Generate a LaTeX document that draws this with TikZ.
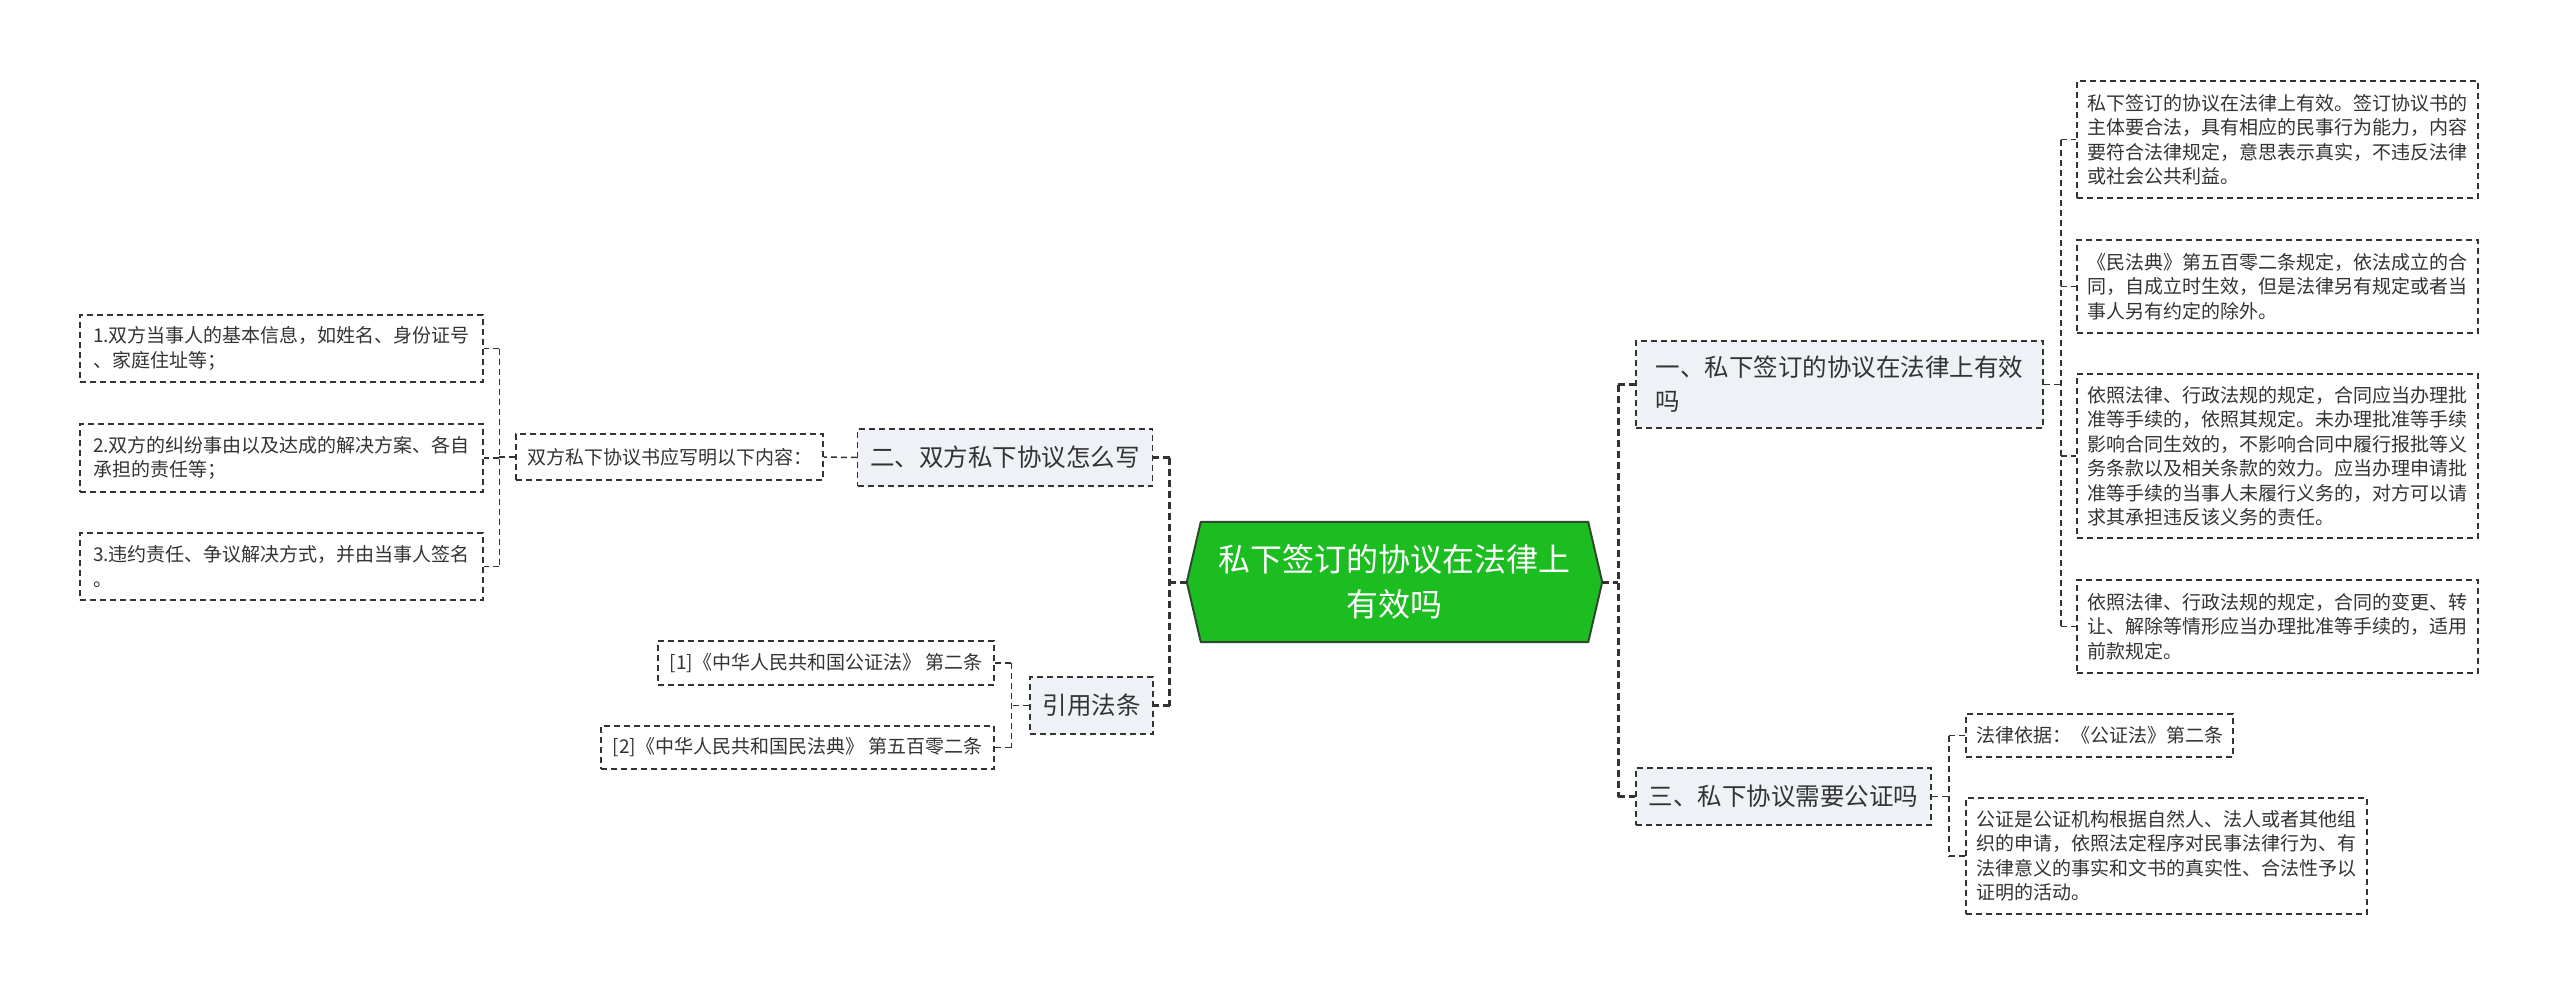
\documentclass[tikz,border=0pt]{standalone}
\usepackage{fontspec}
\newfontfamily\cjk{Noto Sans CJK SC}
\usetikzlibrary{calc}
\pgfdeclarelayer{bg}
\pgfdeclarelayer{back}
\pgfsetlayers{back,bg,main}
\definecolor{lineC}{HTML}{333333}
\definecolor{textC}{HTML}{333333}
\definecolor{greenC}{HTML}{1CBD21}
\definecolor{greenB}{HTML}{2E4A2E}
\definecolor{mainF}{HTML}{EEF1F5}
\begin{document}
\begin{tikzpicture}[x=1pt,y=-1pt,
  box/.style={draw=lineC, line width=1.5pt, dash pattern=on 6pt off 4pt, inner sep=0pt, align=left, text=textC},
  leaf/.style={box, fill=white, font=\cjk\fontsize{19}{24.5}\selectfont},
  mainbox/.style={box, fill=mainF, font=\cjk\fontsize{24.5}{34}\selectfont},
  conn/.style={draw=lineC, line width=1.5pt, dash pattern=on 6pt off 4pt},
  rootconn/.style={draw=lineC, line width=3pt, dash pattern=on 7pt off 4pt},
]
\begin{pgfonlayer}{back}
\fill[white] (0,0) rectangle (2560,997);
\end{pgfonlayer}
\useasboundingbox (0,0) rectangle (2560,997);

% root
\node[font=\cjk\fontsize{32}{45}\selectfont, text=white, align=center, minimum width=415pt, minimum height=120pt, inner sep=0pt] (c) at (1394.5,582) {私下签订的协议在法律上\\有效吗};
\begin{pgfonlayer}{bg}
\draw[fill=greenC, draw=greenB, line width=2pt, line join=round] (c.west) -- ($(c.north west)+(14,0)$) -- ($(c.north east)+(-14,0)$) -- (c.east) -- ($(c.south east)+(-14,0)$) -- ($(c.south west)+(14,0)$) -- cycle;
\end{pgfonlayer}

% main branches
\node[mainbox, minimum width=407pt, minimum height=87pt] (b1) at (1839.5,384.5) {一、私下签订的协议在法律上有效\\吗};
\node[mainbox, minimum width=295pt, minimum height=57pt] (b3) at (1783.5,796.5) {三、私下协议需要公证吗};
\node[mainbox, minimum width=295pt, minimum height=57pt] (b2) at (1005,457.5) {二、双方私下协议怎么写};
\node[mainbox, minimum width=123pt, minimum height=57pt] (b4) at (1091.5,705.5) {引用法条};

% right leaves of b1
\node[leaf, minimum width=401pt, minimum height=117pt] (r1) at (2277.5,139.5) {私下签订的协议在法律上有效。签订协议书的\\主体要合法，具有相应的民事行为能力，内容\\要符合法律规定，意思表示真实，不违反法律\\或社会公共利益。};
\node[leaf, minimum width=401pt, minimum height=93pt] (r2) at (2277.5,286.5) {《民法典》第五百零二条规定，依法成立的合\\同，自成立时生效，但是法律另有规定或者当\\事人另有约定的除外。};
\node[leaf, minimum width=401pt, minimum height=164pt] (r3) at (2277.5,456) {依照法律、行政法规的规定，合同应当办理批\\准等手续的，依照其规定。未办理批准等手续\\影响合同生效的，不影响合同中履行报批等义\\务条款以及相关条款的效力。应当办理申请批\\准等手续的当事人未履行义务的，对方可以请\\求其承担违反该义务的责任。};
\node[leaf, minimum width=401pt, minimum height=93pt] (r4) at (2277.5,626.5) {依照法律、行政法规的规定，合同的变更、转\\让、解除等情形应当办理批准等手续的，适用\\前款规定。};

% leaves of b3
\node[leaf, minimum width=267pt, minimum height=43pt] (r5) at (2099.5,735.5) {法律依据：《公证法》第二条};
\node[leaf, minimum width=401pt, minimum height=116pt] (r6) at (2166.5,856) {公证是公证机构根据自然人、法人或者其他组\\织的申请，依照法定程序对民事法律行为、有\\法律意义的事实和文书的真实性、合法性予以\\证明的活动。};

% left side
\node[leaf, minimum width=307pt, minimum height=46pt] (l0) at (669.5,457) {双方私下协议书应写明以下内容：};
\node[leaf, minimum width=403pt, minimum height=67pt] (l1) at (281.5,348.5) {1.双方当事人的基本信息，如姓名、身份证号\\、家庭住址等；};
\node[leaf, minimum width=403pt, minimum height=68pt] (l2) at (281.5,458) {2.双方的纠纷事由以及达成的解决方案、各自\\承担的责任等；};
\node[leaf, minimum width=403pt, minimum height=67pt] (l3) at (281.5,566.5) {3.违约责任、争议解决方式，并由当事人签名\\。};

\node[leaf, minimum width=336pt, minimum height=44pt] (k1) at (826,663) {[1]《中华人民共和国公证法》 第二条};
\node[leaf, minimum width=393pt, minimum height=43pt] (k2) at (797.5,747.5) {[2]《中华人民共和国民法典》 第五百零二条};

% root connectors right
\coordinate (tR) at ($(c.east)+(16,0)$);
\draw[rootconn] (c.east) -- (tR);
\draw[rootconn] (tR |- b1.west) -- (tR |- b3.west);
\draw[rootconn] (tR |- b1.west) -- (b1.west);
\draw[rootconn] (tR |- b3.west) -- (b3.west);

% root connectors left
\coordinate (tL) at ($(c.west)+(-17,0)$);
\draw[rootconn] (c.west) -- (tL);
\draw[rootconn] (tL |- b2.east) -- (tL |- b4.east);
\draw[rootconn] (tL |- b2.east) -- (b2.east);
\draw[rootconn] (tL |- b4.east) -- (b4.east);

% b1 children
\coordinate (t1) at ($(b1.east)+(17,0)$);
\draw[conn] (b1.east) -- (t1);
\draw[conn] (t1 |- r1.west) -- (t1 |- r4.west);
\draw[conn] (t1 |- r1.west) -- (r1.west);
\draw[conn] (t1 |- r2.west) -- (r2.west);
\draw[conn] (t1 |- r3.west) -- (r3.west);
\draw[conn] (t1 |- r4.west) -- (r4.west);

% b3 children
\coordinate (t3) at ($(b3.east)+(17,0)$);
\draw[conn] (b3.east) -- (t3);
\draw[conn] (t3 |- r5.west) -- (t3 |- r6.west);
\draw[conn] (t3 |- r5.west) -- (r5.west);
\draw[conn] (t3 |- r6.west) -- (r6.west);

% b2 children
\draw[conn] (b2.west) -- (l0.east);
\coordinate (t0) at ($(l0.west)+(-16,0)$);
\draw[conn] (l0.west) -- (t0);
\draw[conn] (t0 |- l1.east) -- (t0 |- l3.east);
\draw[conn] (t0 |- l1.east) -- (l1.east);
\draw[conn] (t0 |- l2.east) -- (l2.east);
\draw[conn] (t0 |- l3.east) -- (l3.east);

% b4 children
\coordinate (t4) at ($(b4.west)+(-18,0)$);
\draw[conn] (b4.west) -- (t4);
\draw[conn] (t4 |- k1.east) -- (t4 |- k2.east);
\draw[conn] (t4 |- k1.east) -- (k1.east);
\draw[conn] (t4 |- k2.east) -- (k2.east);
\end{tikzpicture}
\end{document}
